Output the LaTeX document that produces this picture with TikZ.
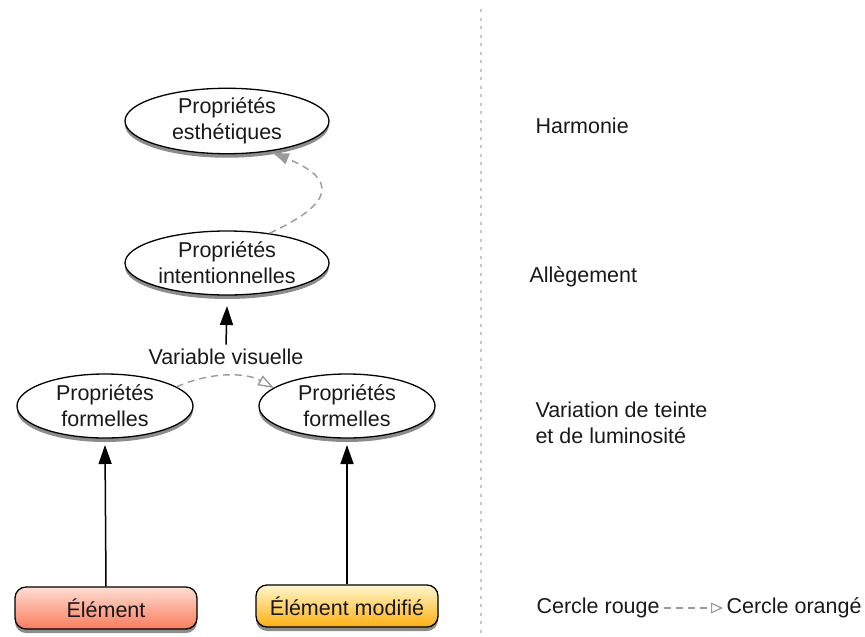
\documentclass[tikz,border=0pt]{standalone}
\usepackage{fontspec}
\setmainfont{Liberation Sans}
\usetikzlibrary{shapes.geometric,arrows.meta,shadows}
\definecolor{dgray}{HTML}{9A9A9A}
\definecolor{sepgray}{HTML}{C8C8C8}
\tikzset{
  txt/.style={font=\fontsize{21.5}{26}\selectfont, text=black!90},
  prop/.style={txt, ellipse, draw=black, line width=1.3pt, fill=white, inner sep=0pt,
     minimum width=#1, minimum height=64pt, align=center,
     drop shadow={shadow xshift=0pt, shadow yshift=-4pt, opacity=0.45, fill=black}},
  prop/.default=204pt,
  elem/.style={txt, rounded corners=11pt, draw=black, line width=1.3pt, inner sep=0pt,
     minimum width=182pt, minimum height=42pt,
     drop shadow={shadow xshift=0pt, shadow yshift=-4pt, opacity=0.45, fill=black}},
  blackarrow/.style={line width=1.5pt, -{Triangle[length=19pt,width=13pt]}},
  grayarrow/.style={dgray, line width=1.4pt, dash pattern=on 7pt off 5pt},
  lbl/.style={txt, anchor=west, align=left},
}
\begin{document}
\begin{tikzpicture}[x=1pt,y=-1pt]
\useasboundingbox (0,0) rectangle (865,637);
% separator
\draw[sepgray, line width=1.2pt, dash pattern=on 3pt off 5.5pt] (481,9) -- (481,637);

% nodes
\node[prop] (e1) at (227,121) {Propriétés\\esthétiques};
\node[prop] (e2) at (227,263) {Propriétés\\intentionnelles};
\node[prop=176pt] (e3) at (105,406) {Propriétés\\formelles};
\node[prop=176pt] (e4) at (347,406) {Propriétés\\formelles};
\node[txt] (vv) at (226,357) {Variable visuelle};

\node[elem, top color=red!10!white!92!orange, bottom color={rgb,255:red,249;green,124;blue,92}] (el) at (106,608) {Élément};
\node[elem, top color={rgb,255:red,255;green,246;blue,205}, bottom color={rgb,255:red,255;green,176;blue,16}] (em) at (347,606) {Élément modifié};

% connectors
\draw[blackarrow] (vv.north) ++(0,-1) coordinate (vvt) -- (e2.south |- 0,306);
\draw[blackarrow] (el.north) -- (e3.south |- 0,445);
\draw[blackarrow] (em.north) -- (e4.south |- 0,445);

\draw[grayarrow, -{Latex[length=18pt,width=12pt]}] (e2.35) .. controls (315,212) and (352,185) .. (271,152);
\draw[grayarrow, -{Triangle[open,length=16pt,width=11pt]}] (e3.15) .. controls (210,372) and (245,372) .. (274,388);

% right column
\node[lbl] (h) at (532,126) {Harmonie};
\node[lbl] (a) at (526,277) {Allègement};
\node[lbl] (v) at (532,423) {Variation de teinte\\et de luminosité};
\node[lbl] (cr) at (533,608) {Cercle rouge};
\node[lbl] (co) at (723,608) {Cercle orangé};
\draw[dgray, line width=1.2pt, dash pattern=on 7pt off 5pt, -{Triangle[open,length=12pt,width=11pt]}] (cr.east) ++(1,0) -- (co.west);
\end{tikzpicture}
\end{document}
